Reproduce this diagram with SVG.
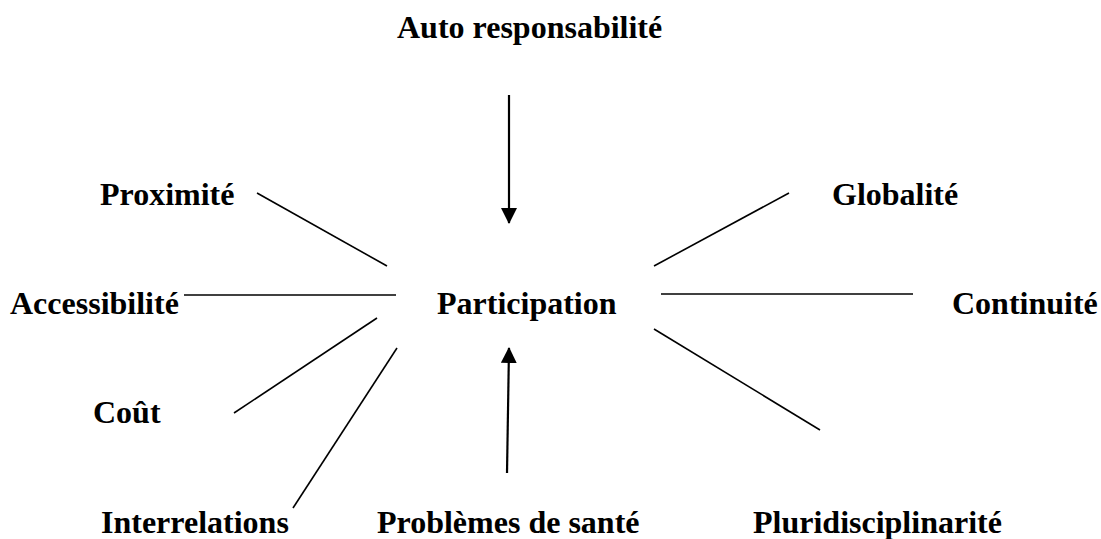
<svg xmlns="http://www.w3.org/2000/svg" width="1101" height="539" viewBox="0 0 1101 539">
<defs>
<style>
.t{font-family:"Liberation Serif","Times New Roman",serif;font-weight:bold;font-size:32px;fill:#000}
.l{stroke:#000;stroke-width:1.6;fill:none}
.a{stroke:#000;stroke-width:2.2;fill:none}
</style>
<marker id="ah" viewBox="0 0 16 16" refX="15" refY="8" markerWidth="16" markerHeight="16" markerUnits="userSpaceOnUse" orient="auto">
<path d="M0,0 L16,8 L0,16 Z" fill="#000"/>
</marker>
</defs>
<rect width="1101" height="539" fill="#fff"/>
<g id="connectors">
<line class="a" x1="509" y1="95" x2="509" y2="223" marker-end="url(#ah)"/>
<line class="a" x1="507" y1="473" x2="509" y2="348" marker-end="url(#ah)"/>
<line class="l" x1="257" y1="193" x2="387" y2="266"/>
<line class="l" x1="184" y1="295" x2="396" y2="295"/>
<line class="l" x1="234" y1="413" x2="377" y2="318"/>
<line class="l" x1="293" y1="508" x2="397" y2="348"/>
<line class="l" x1="654" y1="266" x2="789" y2="193"/>
<line class="l" x1="661" y1="294" x2="913" y2="294"/>
<line class="l" x1="654" y1="329" x2="820" y2="430"/>
</g>
<g id="auto"><text class="t" x="397" y="38">Auto responsabilité</text></g>
<g id="proximite"><text class="t" x="100" y="205">Proximité</text></g>
<g id="globalite"><text class="t" x="832" y="205">Globalité</text></g>
<g id="accessibilite"><text class="t" x="10" y="314">Accessibilité</text></g>
<g id="participation"><text class="t" x="437" y="314">Participation</text></g>
<g id="continuite"><text class="t" x="952" y="314">Continuité</text></g>
<g id="cout"><text class="t" x="93" y="423">Coût</text></g>
<g id="interrelations"><text class="t" x="101" y="533">Interrelations</text></g>
<g id="problemes"><text class="t" x="377" y="533">Problèmes de santé</text></g>
<g id="pluridisciplinarite"><text class="t" x="753" y="533">Pluridisciplinarité</text></g>
</svg>
